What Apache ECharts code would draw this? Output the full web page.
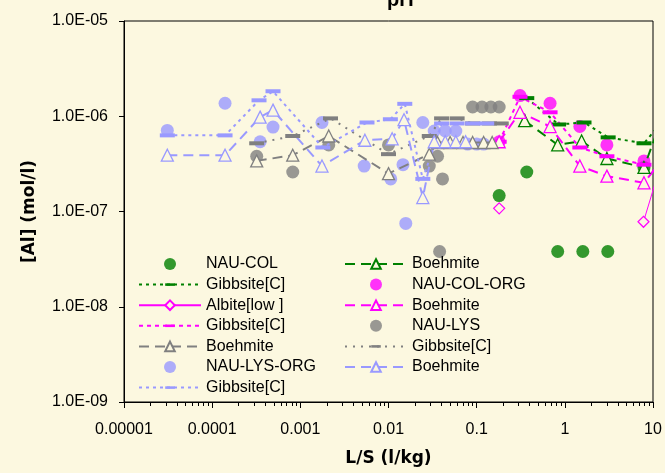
<!DOCTYPE html>
<html>
<head>
<meta charset="utf-8">
<script src="https://cdn.jsdelivr.net/npm/echarts@6/dist/echarts.min.js"></script>
<style>
  html, body { margin: 0; padding: 0; background: #FCF8E0; }
  #main { width: 665px; height: 473px; }
</style>
</head>
<body>
<div id="main"></div>
<script>
// [L/S (l/kg), [Al] (mol/l)]
const nauCol = [[0.18, 1.47e-7], [0.37, 2.6e-7], [0.83, 3.8e-8], [1.6, 3.8e-8], [3.07, 3.8e-8], [7.9, 2.9e-7]];
const gibbsiteCol = [[0.37, 1.55e-6], [0.85, 8.2e-7], [1.65, 8.6e-7], [3.1, 6e-7], [7.9, 5.2e-7], [20, 1.45e-6]];
const boehmiteCol = [[0.35, 9e-7], [0.83, 5e-7], [1.55, 5.5e-7], [3.0, 3.6e-7], [7.9, 2.9e-7], [20, 3e-6]];

const nauColOrg = [[0.18, 5.4e-7], [0.31, 1.65e-6], [0.68, 1.37e-6], [1.48, 7.8e-7], [3.0, 5e-7], [7.9, 3.4e-7]];
const albiteColOrg = [[0.18, 1.08e-7], [1, '-'], [7.8, 7.8e-8], [20, 1.4e-6]];
const gibbsiteColOrg = [[0.18, 5.4e-7], [0.31, 1.6e-6], [0.68, 1.1e-6], [1.48, 4.7e-7], [3.0, 3.8e-7], [7.9, 3.1e-7]];
const boehmiteColOrg = [[0.18, 5.4e-7], [0.31, 1.1e-6], [0.68, 7.8e-7], [1.48, 3e-7], [3.0, 2.35e-7], [7.9, 2e-7], [20, 6e-7]];

const nauLys = [[3.2e-4, 3.8e-7], [8.2e-4, 2.6e-7], [2.1e-3, 5e-7], [0.01, 5e-7], [0.029, 3e-7], [0.036, 3.8e-7],
    [0.038, 3.8e-8], [0.041, 2.2e-7], [0.09, 1.25e-6], [0.115, 1.25e-6], [0.145, 1.25e-6], [0.18, 1.25e-6]];
const gibbsiteLys = [[3.2e-4, 5.2e-7], [8.2e-4, 6.2e-7], [2.2e-3, 9.5e-7], [0.01, 4e-7], [0.029, 6.2e-7], [0.04, 9.5e-7],
    [0.06, 9.5e-7], [0.09, 8.4e-7], [0.14, 8.4e-7], [0.19, 8.4e-7]];
const boehmiteLys = [[3.2e-4, 3.4e-7], [8.2e-4, 3.9e-7], [2.1e-3, 6.2e-7], [0.01, 2.5e-7], [0.029, 4e-7], [0.036, 5.3e-7],
    [0.05, 5.3e-7], [0.07, 5.3e-7], [0.09, 5.3e-7], [0.12, 5.3e-7], [0.15, 5.3e-7]];

const nauLysOrg = [[3.1e-5, 7.1e-7], [1.4e-4, 1.37e-6], [3.5e-4, 5.4e-7], [4.9e-4, 7.7e-7], [1.76e-3, 8.6e-7], [5.3e-3, 3e-7],
    [0.0106, 2.2e-7], [0.0146, 3.1e-7], [0.0157, 7.5e-8], [0.0245, 8.6e-7], [0.033, 7e-7], [0.044, 7e-7], [0.058, 7e-7],
    [0.079, 5.1e-7], [0.1, 5.1e-7], [0.12, 5.1e-7]];
const gibbsiteLysOrg = [[3.1e-5, 6.3e-7], [1.4e-4, 6.3e-7], [3.4e-4, 1.47e-6], [4.9e-4, 1.83e-6], [1.8e-3, 4.7e-7], [5.7e-3, 8.6e-7],
    [0.0105, 9.3e-7], [0.0153, 1.35e-6], [0.0245, 2.2e-7], [0.04, 8.4e-7], [0.06, 8.4e-7], [0.09, 8.4e-7], [0.13, 8.4e-7]];
const boehmiteLysOrg = [[3.1e-5, 3.9e-7], [1.4e-4, 3.9e-7], [3.5e-4, 9.8e-7], [4.9e-4, 1.16e-6], [1.76e-3, 3e-7], [5.4e-3, 5.6e-7],
    [0.011, 5.8e-7], [0.015, 9.2e-7], [0.0245, 1.4e-7], [0.033, 5.4e-7], [0.044, 5.4e-7], [0.058, 5.4e-7], [0.075, 5.4e-7]];

const legendLeft = ['NAU-COL', 'Gibbsite[C]|col', 'Albite[low ]', 'Gibbsite[C]|colorg', 'Boehmite|lys', 'NAU-LYS-ORG', 'Gibbsite[C]|lysorg'];
const legendRight = ['Boehmite|col', 'NAU-COL-ORG', 'Boehmite|colorg', 'NAU-LYS', 'Gibbsite[C]|lys', 'Boehmite|lysorg'];

const BG = '#FCF8E0';
const GREEN = '#008000', PINK = '#FF00FF', GRAY = '#808080', BLUE = '#9999FF';
// flat bar marker inside a square box, so it keeps its shape in the legend too
const DASH = 'path://M0,0M0,5.5H15V9.5H0ZM15,15';
const FONT = 'Liberation Sans, Arial, sans-serif';
const NAME_FONT = 'DejaVu Sans, sans-serif';

function circles(name, data, color) {
    return {
        name: name, type: 'scatter', data: data, symbol: 'circle', symbolSize: 13,
        itemStyle: { color: color }, clip: false
    };
}
function gibbsite(name, data, color, dash) {
    return {
        name: name, type: 'line', data: data, symbol: DASH, symbolSize: 15,
        showAllSymbol: true, clip: false,
        itemStyle: { color: color },
        lineStyle: { color: color, width: 2, type: dash }
    };
}
function boehmite(name, data, color) {
    return {
        name: name, type: 'line', data: data, symbol: 'triangle', symbolSize: 12,
        showAllSymbol: true, clip: false,
        itemStyle: { color: BG, borderColor: color, borderWidth: 1.3 },
        lineStyle: { color: color, width: 2, type: [10, 6] }
    };
}

const chart = echarts.init(document.getElementById('main'), null, { renderer: 'canvas' });

const legendBase = {
    orient: 'vertical', padding: 0, itemWidth: 62, itemHeight: 12, itemGap: 4.6,
    selectedMode: false,
    textStyle: { fontFamily: FONT, fontSize: 16, color: '#000', lineHeight: 14 },
    formatter: function (name) { return name.split('|')[0]; }
};

chart.setOption({
    backgroundColor: BG,
    animation: false,
    title: {
        text: 'pH', left: 382, top: -15,
        textStyle: { fontFamily: FONT, fontSize: 20, fontWeight: 'bold', color: '#000' }
    },
    legend: [
        Object.assign({}, legendBase, { left: 138, top: 256, data: legendLeft }),
        Object.assign({}, legendBase, { left: 344, top: 256, data: legendRight })
    ],
    grid: {
        left: 124, right: 12, top: 21, bottom: 71,
        show: true, backgroundColor: BG, borderColor: '#000', borderWidth: 1
    },
    xAxis: {
        type: 'log', logBase: 10, min: 1e-5, max: 10,
        name: 'L/S (l/kg)', nameLocation: 'middle', nameGap: 48,
        nameTextStyle: { fontFamily: NAME_FONT, fontSize: 17, fontWeight: 'bold', color: '#000' },
        axisLine: { onZero: false, lineStyle: { color: '#000', width: 1 } },
        axisTick: { inside: false, length: 6, lineStyle: { color: '#000' } },
        minorTick: { show: true, splitNumber: 9, length: 4, lineStyle: { color: '#000' } },
        axisLabel: {
            margin: 20, fontFamily: FONT, fontSize: 16, color: '#000',
            formatter: function (v) {
                const e = Math.round(Math.log10(v));
                return e < 0 ? Math.pow(10, e).toFixed(-e) : String(Math.pow(10, e));
            }
        },
        splitLine: { show: false }
    },
    yAxis: {
        type: 'log', logBase: 10, min: 1e-9, max: 1e-5,
        name: '[Al] (mol/l)', nameLocation: 'middle', nameGap: 86, nameRotate: 90,
        nameTextStyle: { fontFamily: NAME_FONT, fontSize: 17, fontWeight: 'bold', color: '#000' },
        axisLine: { onZero: false, lineStyle: { color: '#000', width: 1 } },
        axisTick: { inside: false, length: 5, lineStyle: { color: '#000' } },
        axisLabel: {
            margin: 16, fontFamily: FONT, fontSize: 16, color: '#000',
            formatter: function (v) {
                const e = Math.round(Math.log10(v));
                return '1.0E' + (e < 0 ? '-' : '+') + String(Math.abs(e)).padStart(2, '0');
            }
        },
        splitLine: { show: false }
    },
    series: [
        circles('NAU-COL', nauCol, GREEN),
        gibbsite('Gibbsite[C]|col', gibbsiteCol, GREEN, [3, 4]),
        boehmite('Boehmite|col', boehmiteCol, GREEN),
        circles('NAU-COL-ORG', nauColOrg, PINK),
        {
            name: 'Albite[low ]', type: 'line', data: albiteColOrg, symbol: 'diamond', symbolSize: 11,
            showAllSymbol: true, clip: false, connectNulls: false,
            itemStyle: { color: BG, borderColor: PINK, borderWidth: 1.2 },
            lineStyle: { color: PINK, width: 1, type: 'solid' }
        },
        gibbsite('Gibbsite[C]|colorg', gibbsiteColOrg, PINK, [4, 4]),
        boehmite('Boehmite|colorg', boehmiteColOrg, PINK),
        circles('NAU-LYS', nauLys, GRAY),
        gibbsite('Gibbsite[C]|lys', gibbsiteLys, GRAY, [2, 6]),
        boehmite('Boehmite|lys', boehmiteLys, GRAY),
        circles('NAU-LYS-ORG', nauLysOrg, BLUE),
        gibbsite('Gibbsite[C]|lysorg', gibbsiteLysOrg, BLUE, [3, 4]),
        boehmite('Boehmite|lysorg', boehmiteLysOrg, BLUE)
    ]
});
</script>
</body>
</html>
